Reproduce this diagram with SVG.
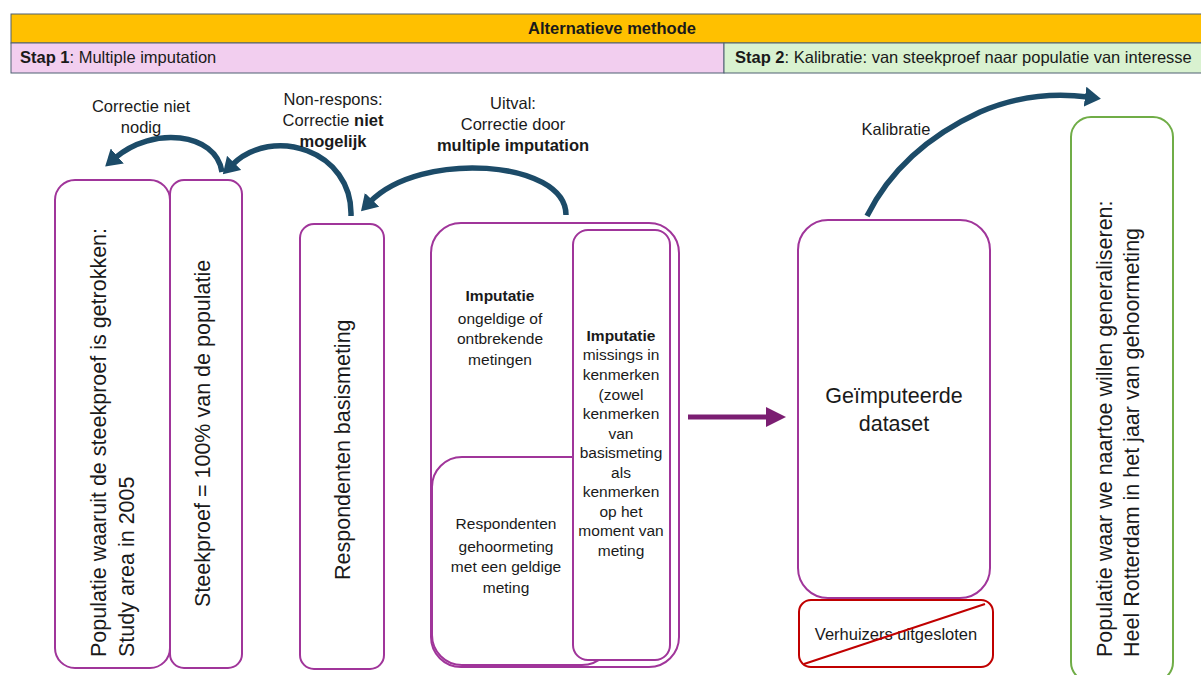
<svg xmlns="http://www.w3.org/2000/svg" width="1201" height="675" viewBox="0 0 1201 675">
  <style>
    text { font-family: "Liberation Sans", Arial, sans-serif; fill: #1a1a1a; }
    .hdr { font-size: 16.5px; }
    .b { font-weight: bold; }
    .lbl { font-size: 16.5px; text-anchor: middle; }
    .in { font-size: 15.5px; text-anchor: middle; }
    .rot { font-size: 21.5px; }
    .box { fill: #ffffff; stroke: #A0359A; stroke-width: 2; }
    .cur { fill: none; stroke: #1C4B68; stroke-width: 5.5; marker-end: url(#hd); }
  </style>
  <defs>
    <marker id="hd" markerUnits="userSpaceOnUse" markerWidth="16" markerHeight="20" viewBox="0 0 16 20" refX="3" refY="10" orient="auto">
      <path d="M0,0 L16,10 L0,20 z" fill="#1C4B68"/>
    </marker>
  </defs>
  <rect x="0" y="0" width="1201" height="675" fill="#ffffff"/>

  <g id="header">
    <rect x="11" y="14" width="1200" height="29" fill="#FFC000" stroke="#4F6173" stroke-width="1"/>
    <text x="612" y="34" class="hdr b" text-anchor="middle">Alternatieve methode</text>
    <rect x="11" y="43" width="713" height="30" fill="#F2CEEF" stroke="#4F6173" stroke-width="1"/>
    <text x="20" y="63" class="hdr"><tspan class="b">Stap 1</tspan>: Multiple imputation</text>
    <rect x="724" y="43" width="487" height="30" fill="#D9F2D0" stroke="#4F6173" stroke-width="1"/>
    <text x="735" y="63" class="hdr"><tspan class="b">Stap 2</tspan>: Kalibratie: van steekproef naar populatie van interesse</text>
  </g>

  <g id="connectors">
    <path class="cur" d="M222,172 C216,132 152,126 115,158"/>
    <path class="cur" d="M351,216 C353,150 272,125 232,165"/>
    <path class="cur" d="M566,215 C566,160 420,150 370,202"/>
    <path class="cur" d="M867,216 C890,170 930,135 980,112 C1015,97 1050,92 1088,97"/>
    <line x1="688" y1="417" x2="768" y2="417" stroke="#7B1E72" stroke-width="5"/>
    <polygon points="766,407 786,417 766,427" fill="#7B1E72"/>
  </g>

  <g id="label-niet-nodig">
    <text x="141" y="112" class="lbl">Correctie niet</text>
    <text x="141" y="133" class="lbl">nodig</text>
  </g>
  <g id="label-nonrespons">
    <text x="333" y="105" class="lbl">Non-respons:</text>
    <text x="333" y="126" class="lbl">Correctie <tspan class="b">niet</tspan></text>
    <text x="333" y="147" class="lbl b">mogelijk</text>
  </g>
  <g id="label-uitval">
    <text x="513" y="109" class="lbl">Uitval:</text>
    <text x="513" y="130" class="lbl">Correctie door</text>
    <text x="513" y="151" class="lbl b">multiple imputation</text>
  </g>
  <g id="label-kalibratie">
    <text x="896" y="135" class="lbl">Kalibratie</text>
  </g>

  <g id="populatie-studyarea">
    <rect x="55" y="180" width="115" height="488" rx="20" class="box"/>
    <text class="rot" transform="translate(106,657) rotate(-90)">
      <tspan x="0" y="0">Populatie waaruit de steekproef is getrokken:</tspan>
      <tspan x="0" y="28">Study area in 2005</tspan>
    </text>
  </g>
  <g id="steekproef">
    <rect x="170" y="180" width="72" height="488" rx="14" class="box"/>
    <text class="rot" transform="translate(210,607) rotate(-90)">Steekproef = 100% van de populatie</text>
  </g>
  <g id="respondenten-basismeting">
    <rect x="300" y="224" width="84" height="445" rx="14" class="box"/>
    <text class="rot" transform="translate(350,580) rotate(-90)">Respondenten basismeting</text>
  </g>

  <g id="imputatie">
    <rect x="431" y="223" width="248" height="444" rx="30" class="box"/>
    <text x="500" y="301" class="in b">Imputatie</text>
    <text x="500" y="324" class="in">ongeldige of</text>
    <text x="500" y="344" class="in">ontbrekende</text>
    <text x="500" y="365" class="in">metingen</text>
  </g>
  <g id="respondenten-gehoormeting">
    <rect x="432" y="457" width="180" height="208" rx="30" class="box"/>
    <text x="506" y="529" class="in">Respondenten</text>
    <text x="506" y="552" class="in">gehoormeting</text>
    <text x="506" y="572" class="in">met een geldige</text>
    <text x="506" y="593" class="in">meting</text>
  </g>
  <g id="imputatie-kenmerken">
    <rect x="573" y="230" width="97" height="430" rx="15" class="box"/>
    <text x="621" y="341" class="in b">Imputatie</text>
    <text x="621" y="360" class="in">missings in</text>
    <text x="621" y="380" class="in">kenmerken</text>
    <text x="621" y="400" class="in">(zowel</text>
    <text x="621" y="419" class="in">kenmerken</text>
    <text x="621" y="439" class="in">van</text>
    <text x="621" y="458" class="in">basismeting</text>
    <text x="621" y="478" class="in">als</text>
    <text x="621" y="497" class="in">kenmerken</text>
    <text x="621" y="517" class="in">op het</text>
    <text x="621" y="536" class="in">moment van</text>
    <text x="621" y="556" class="in">meting</text>
  </g>

  <g id="geimputeerde-dataset">
    <rect x="798" y="220" width="192" height="378" rx="30" class="box"/>
    <text x="894" y="403" font-size="21.5" text-anchor="middle">Geïmputeerde</text>
    <text x="894" y="431" font-size="21.5" text-anchor="middle">dataset</text>
  </g>
  <g id="verhuizers">
    <rect x="799" y="600" width="194" height="67" rx="12" fill="#ffffff" stroke="#C00000" stroke-width="2"/>
    <text x="896" y="640" font-size="16.5" text-anchor="middle">Verhuizers uitgesloten</text>
    <line x1="804" y1="664" x2="985" y2="604" stroke="#C00000" stroke-width="2"/>
  </g>

  <g id="populatie-rotterdam">
    <rect x="1071" y="117" width="102" height="565" rx="20" fill="#ffffff" stroke="#70AD47" stroke-width="2"/>
    <text class="rot" transform="translate(1112,657) rotate(-90)">
      <tspan x="0" y="0">Populatie waar we naartoe willen generaliseren:</tspan>
      <tspan x="0" y="27">Heel Rotterdam in het jaar van gehoormeting</tspan>
    </text>
  </g>
</svg>
